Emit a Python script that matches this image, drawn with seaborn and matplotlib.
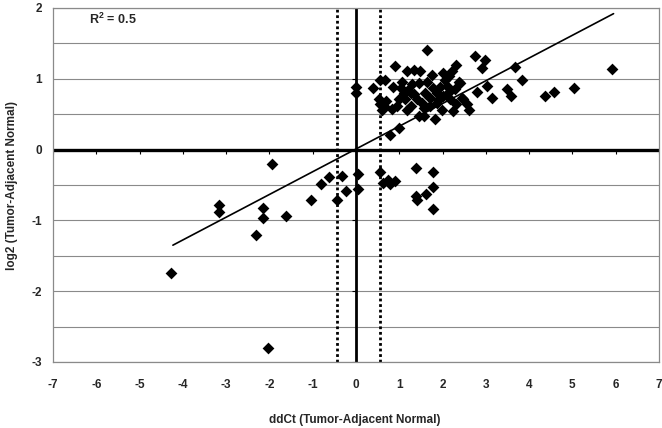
import numpy as np
import pandas as pd
import matplotlib
matplotlib.use("Agg")
import matplotlib.pyplot as plt
from matplotlib.ticker import MultipleLocator
import seaborn as sns

# ---- data ----
ddct = [-4.27, -2.04, -3.17, -3.17, -2.30, -2.14, -2.14, -1.93, -1.62, -1.05,
        -0.80, -0.63, -0.43, -0.32, -0.23, 0.05, 0.05, 0.55, 0.63, 0.73,
        0.79, 0.91, 1.39, 1.78, 1.79, 1.39, 1.41, 1.62, 1.78,
        -0.01, -0.01, 1.65, 2.75, 2.98, 2.91, 3.68, 3.84, 3.02, 2.79, 3.15,
        3.48, 3.58, 4.37, 4.57, 5.04, 5.92, 0.79, 0.99, 0.91, 0.40,
        0.56, 0.68, 0.56, 0.64, 0.83, 1.18, 1.33, 1.49, 1.76, 2.02,
        2.32, 2.37, 2.45, 2.60, 2.25, 1.83, 1.45, 1.56, 1.99, 0.85,
        1.03, 1.10, 1.29, 1.14, 1.26, 0.99, 1.18, 1.41, 1.64, 1.60,
        1.72, 1.79, 1.87, 1.95, 2.06, 2.14, 2.22, 2.02, 2.14, 2.18,
        2.29, 2.41, 1.72, 1.87, 1.56, 2.48, 2.56, 1.26, 1.06, 1.45,
        0.53, 0.60, 0.70, 0.95, 1.35, 1.52, 1.90, 2.10, 2.30, 1.20]
log2 = [-1.75, -2.80, -0.78, -0.88, -1.20, -0.82, -0.96, -0.21, -0.94, -0.71,
        -0.48, -0.38, -0.71, -0.37, -0.59, -0.34, -0.56, -0.31, -0.47, -0.43,
        -0.48, -0.45, -0.26, -0.32, -0.53, -0.66, -0.71, -0.63, -0.84,
        0.89, 0.80, 1.40, 1.32, 1.27, 1.15, 1.17, 0.99, 0.90, 0.81, 0.73,
        0.85, 0.76, 0.76, 0.82, 0.87, 1.14, 0.21, 0.31, 1.18, 0.87,
        0.99, 0.99, 0.64, 0.61, 0.57, 1.11, 1.13, 1.11, 1.06, 1.08,
        1.19, 0.96, 0.73, 0.56, 0.54, 0.43, 0.48, 0.47, 0.56, 0.89,
        0.87, 0.80, 0.92, 0.71, 0.61, 0.71, 0.56, 0.71, 0.96, 0.80,
        0.73, 0.87, 0.80, 0.89, 0.99, 1.04, 1.11, 0.75, 0.82, 0.71,
        0.85, 0.94, 0.61, 0.66, 0.59, 0.71, 0.64, 0.80, 0.96, 0.94,
        0.71, 0.56, 0.68, 0.62, 0.78, 0.66, 0.70, 0.90, 0.64, 0.84]
fit_x = [-4.23, 5.95]
fit_y = [-1.35, 1.92]
cutoffs = [-0.45, 0.55]
r2_label = "R$^{2}$ = 0.5"
x_ticks = list(range(-7, 8))
y_ticks = [-3, -2, -1, 0, 1, 2]
x_title = "ddCt (Tumor-Adjacent Normal)"
y_title = "log2 (Tumor-Adjacent Normal)"

df = pd.DataFrame({"ddCt": ddct, "log2": log2})

sns.set_style("white")
plt.rcParams["font.family"] = ["Liberation Sans", "DejaVu Sans"]
plt.rcParams["font.weight"] = "bold"
plt.rcParams["axes.unicode_minus"] = False
plt.rcParams["mathtext.fontset"] = "custom"
plt.rcParams["mathtext.rm"] = "Liberation Sans:bold"
plt.rcParams["mathtext.default"] = "rm"

fig = plt.figure(figsize=(6.62, 4.28), dpi=100)
ax = fig.add_axes([53 / 662, 1 - 362 / 428, (659 - 53) / 662, (362 - 8) / 428])

ax.set_xlim(-7, 7)
ax.set_ylim(-3, 2)
ax.yaxis.set_minor_locator(MultipleLocator(0.5))
ax.set_yticks(y_ticks)
ax.set_xticks(x_ticks)
ax.grid(False)
ax.grid(True, which="both", axis="y", color="#8a8a8a", lw=0.8, zorder=0)
for s in ax.spines.values():
    s.set_color("#8a8a8a")
    s.set_linewidth(0.9)

# zero axes
ax.axhline(0, color="black", lw=2.4, zorder=2)
ax.axvline(0, color="black", lw=2.0, zorder=2)
ax.vlines(x_ticks, 0, -0.06, color="black", lw=0.8, zorder=2)
ax.hlines(y_ticks, -0.09, 0, color="black", lw=0.8, zorder=2)

# cutoff dotted lines
for c in cutoffs:
    ax.axvline(c, color="black", lw=2.0, ls=(0, (1, 1)), zorder=2)

sns.scatterplot(data=df, x="ddCt", y="log2", marker="D", s=36, color="black",
                linewidth=0, ax=ax, zorder=4)
sns.lineplot(x=fit_x, y=fit_y, color="black", lw=1.2, ax=ax, zorder=3)

ax.text(-6.17, 1.84, r2_label, fontsize=9, fontweight="bold", va="center", ha="left")

ax.tick_params(axis="both", which="both", length=0, labelsize=8.5)
ax.tick_params(axis="x", pad=12)
ax.tick_params(axis="y", pad=8)
for lab in ax.get_xticklabels() + ax.get_yticklabels():
    lab.set_fontweight("bold")

ax.set_xlabel("")
ax.set_ylabel("")
fig.text(355 / 662, 1 - 420 / 428, x_title, ha="center", va="center", fontsize=8.5, fontweight="bold")
fig.text(12 / 662, 1 - 185 / 428, y_title, ha="center", va="center", rotation=90,
         fontsize=8.5, fontweight="bold")

fig.savefig("out.png", dpi=100)
